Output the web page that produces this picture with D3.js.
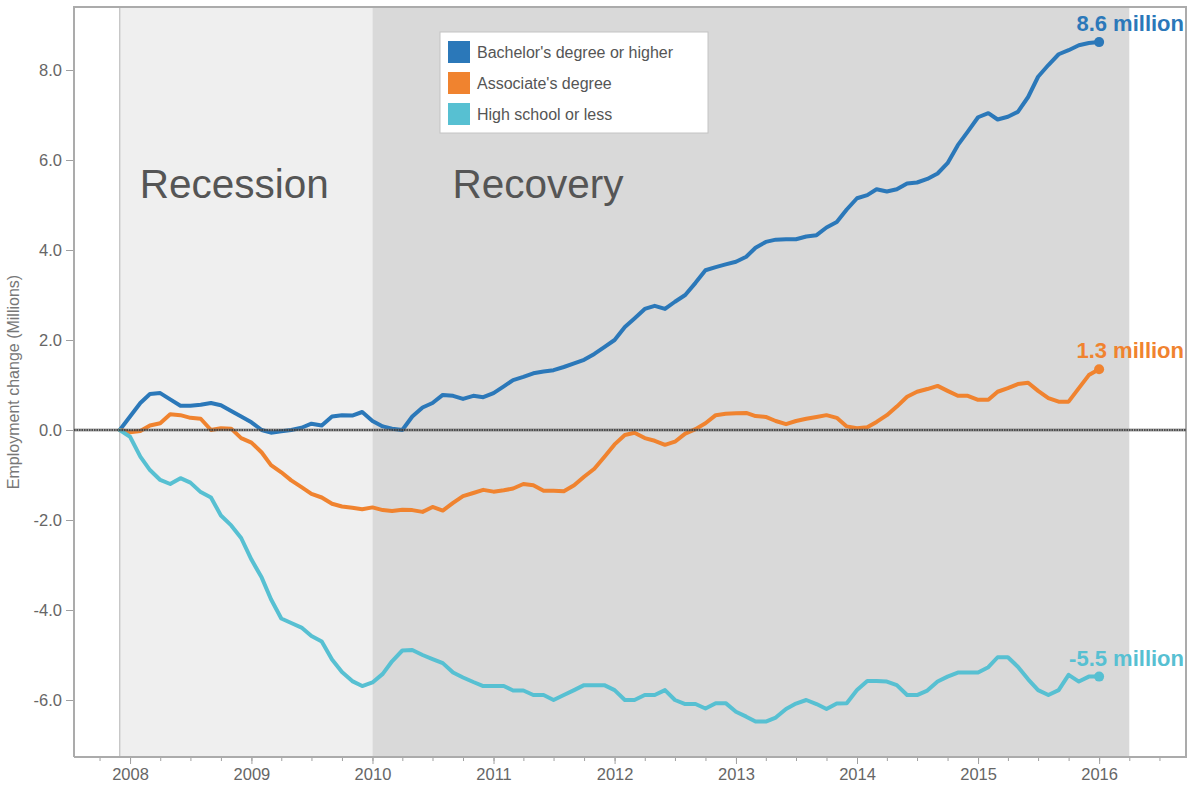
<!DOCTYPE html>
<html>
<head>
<meta charset="utf-8">
<script src="https://cdn.jsdelivr.net/npm/d3@7"></script>
<style>
    body { margin: 0; background: #fff; }
    svg { display: block; font-family: "Liberation Sans", Arial, sans-serif; }
</style>
</head>
<body>
<svg width="1188" height="786"></svg>
<script>
// the data - monthly employment change since Dec 2007, in millions
var startMonth = new Date(2007, 11, 1);
var endMonth = new Date(2016, 0, 1);

var bachelors = [
    0, 0.3, 0.6, 0.8, 0.82, 0.68, 0.54, 0.54, 0.56, 0.6, 0.55, 0.42, 0.3,
    0.17, 0.0, -0.06, -0.03, 0.0, 0.05, 0.14, 0.1, 0.3, 0.33, 0.32, 0.4,
    0.2, 0.08, 0.03, 0.0, 0.3, 0.5, 0.6, 0.78, 0.76, 0.69, 0.76, 0.73,
    0.82, 0.97, 1.11, 1.18, 1.26, 1.3, 1.33, 1.4, 1.48, 1.56, 1.69, 1.84,
    2.0, 2.29, 2.48, 2.69, 2.76, 2.69, 2.85, 3.0, 3.27, 3.55, 3.62, 3.68,
    3.74, 3.85, 4.05, 4.18, 4.23, 4.24, 4.24, 4.3, 4.33, 4.5, 4.62, 4.9,
    5.15, 5.22, 5.35, 5.3, 5.35, 5.48, 5.5, 5.58, 5.7, 5.93, 6.33, 6.63,
    6.95, 7.04, 6.9, 6.96, 7.07, 7.4, 7.85, 8.11, 8.35, 8.44, 8.55, 8.6,
    8.62
];

var associates = [
    0, -0.05, -0.02, 0.1, 0.15, 0.35, 0.33, 0.27, 0.25, 0.0, 0.04, 0.03, -0.18,
    -0.28, -0.5, -0.78, -0.94, -1.12, -1.27, -1.42, -1.5, -1.64, -1.7, -1.73, -1.76,
    -1.72, -1.78, -1.8, -1.77, -1.78, -1.82, -1.71, -1.79, -1.62, -1.47, -1.4, -1.33,
    -1.37, -1.34, -1.3, -1.2, -1.23, -1.35, -1.35, -1.36, -1.23, -1.04, -0.86, -0.6,
    -0.32, -0.11, -0.06, -0.18, -0.24, -0.33, -0.26, -0.08, 0.02, 0.15, 0.33, 0.36,
    0.37, 0.38, 0.31, 0.29, 0.2, 0.13, 0.2, 0.25, 0.29, 0.33, 0.27, 0.08,
    0.04, 0.06, 0.18, 0.33, 0.52, 0.74, 0.85, 0.91, 0.98, 0.87, 0.76, 0.76,
    0.67, 0.67, 0.85, 0.93, 1.02, 1.05, 0.87, 0.71, 0.63, 0.63, 0.93, 1.22,
    1.35
];

var highSchool = [
    0, -0.15, -0.59, -0.89, -1.11, -1.2, -1.07, -1.17, -1.38, -1.5, -1.9, -2.12, -2.4,
    -2.88, -3.28, -3.76, -4.19, -4.29, -4.39, -4.58, -4.7, -5.1, -5.38, -5.58, -5.69,
    -5.61, -5.42, -5.14, -4.9, -4.89, -5.0, -5.09, -5.18, -5.39, -5.5, -5.6, -5.69,
    -5.69, -5.69, -5.79, -5.79, -5.89, -5.89, -6.0, -5.89, -5.78, -5.67, -5.67, -5.67,
    -5.78, -6.0, -6.0, -5.89, -5.89, -5.78, -6.0, -6.09, -6.09, -6.19, -6.07, -6.07,
    -6.26, -6.37, -6.48, -6.48, -6.39, -6.2, -6.08, -6.0, -6.09, -6.2, -6.08, -6.07,
    -5.78, -5.58, -5.58, -5.59, -5.67, -5.89, -5.89, -5.79, -5.59, -5.48, -5.39, -5.39,
    -5.39, -5.27, -5.05, -5.05, -5.26, -5.54, -5.78, -5.89, -5.78, -5.44, -5.59, -5.48,
    -5.48
];

var seriesNames = ["Bachelor's degree or higher", "Associate's degree", "High school or less"];
var seriesColours = ["#2b78b9", "#f0832f", "#57c0d2"];
var endLabels = ["8.6 million", "1.3 million", "-5.5 million"];

var yTicks = [-6, -4, -2, 0, 2, 4, 6, 8];

// shaded periods
var periods = [
    { name: "Recession", start: new Date(2007, 11, 1), end: new Date(2010, 0, 1), fill: "#efefef" },
    { name: "Recovery", start: new Date(2010, 0, 1), end: new Date(2016, 3, 1), fill: "#d9d9d9" }
];

var svg = d3.select("svg");

// plot frame
var plotLeft = 74, plotRight = 1186, plotTop = 7, plotBottom = 757;

var months = d3.timeMonth.range(startMonth, d3.timeMonth.offset(endMonth, 1));
var series = [bachelors, associates, highSchool].map(function (vals, i) {
    return {
        name: seriesNames[i],
        colour: seriesColours[i],
        label: endLabels[i],
        values: vals.map(function (v, j) { return { date: months[j], value: v }; })
    };
});

var x = d3.scaleTime()
    .domain([new Date(2007, 6, 16), new Date(2016, 8, 19)])
    .range([plotLeft, plotRight]);

var y = d3.scaleLinear()
    .domain([-327 / 45, 423 / 45])
    .range([plotBottom, plotTop]);

//////////// BACKGROUND ////////////

svg.append("g")
    .selectAll("rect")
    .data(periods)
    .enter().append("rect")
    .attr("x", d => x(d.start))
    .attr("y", plotTop)
    .attr("width", d => x(d.end) - x(d.start))
    .attr("height", plotBottom - plotTop)
    .attr("fill", d => d.fill);

// thin edge on the left of the recession band
svg.append("line")
    .attr("x1", x(periods[0].start)).attr("x2", x(periods[0].start))
    .attr("y1", plotTop).attr("y2", plotBottom)
    .attr("stroke", "#b4b4b4")
    .attr("stroke-width", 1);

svg.append("g")
    .selectAll("text")
    .data(periods)
    .enter().append("text")
    .attr("x", d => d.name == "Recession" ? x(d.start) + 20 : x(d.start) + 80)
    .attr("y", 198)
    .attr("font-size", 40.5)
    .attr("fill", "#555")
    .text(d => d.name);

//////////// AXES ////////////

var yAxis = svg.append("g")
    .attr("transform", "translate(" + plotLeft + ",0)")
    .call(d3.axisLeft(y).tickValues(yTicks).tickSize(8).tickPadding(4).tickFormat(d => d.toFixed(1)));
yAxis.select(".domain").remove();
yAxis.selectAll(".tick line").attr("stroke", "#a0a0a0");
yAxis.selectAll(".tick text")
    .attr("font-size", 16.5)
    .attr("font-family", "Liberation Sans, Arial, sans-serif")
    .attr("fill", "#666");

var quarters = d3.timeMonth.every(3).range(new Date(2007, 9, 1), new Date(2016, 6, 2));
var xMinor = svg.append("g")
    .attr("transform", "translate(0," + plotBottom + ")")
    .call(d3.axisBottom(x).tickValues(quarters).tickSize(4).tickFormat(""));
xMinor.select(".domain").remove();
xMinor.selectAll(".tick line").attr("stroke", "#a0a0a0");

var years = d3.timeYear.range(new Date(2008, 0, 1), new Date(2016, 0, 2));
var xAxis = svg.append("g")
    .attr("transform", "translate(0," + plotBottom + ")")
    .call(d3.axisBottom(x).tickValues(years).tickSize(7).tickPadding(4).tickFormat(d3.timeFormat("%Y")));
xAxis.select(".domain").remove();
xAxis.selectAll(".tick line").attr("stroke", "#a0a0a0");
xAxis.selectAll(".tick text")
    .attr("font-size", 16.5)
    .attr("font-family", "Liberation Sans, Arial, sans-serif")
    .attr("fill", "#666");

// frame lines
svg.append("path")
    .attr("d", "M" + plotLeft + "," + plotBottom + "V" + plotTop + "H" + plotRight + "V" + plotBottom + "H" + plotLeft)
    .attr("fill", "none")
    .attr("stroke", "#ababab")
    .attr("stroke-width", 2);

svg.append("text")
    .attr("transform", "translate(19," + 382 + ") rotate(-90)")
    .attr("text-anchor", "middle")
    .attr("font-size", 16)
    .attr("fill", "#777")
    .text("Employment change (Millions)");

//////////// LINES ////////////

var line = d3.line()
    .x(d => x(d.date))
    .y(d => y(d.value));

svg.append("g")
    .selectAll("path")
    .data(series)
    .enter().append("path")
    .attr("d", d => line(d.values))
    .attr("fill", "none")
    .attr("stroke", d => d.colour)
    .attr("stroke-width", 4)
    .attr("stroke-linejoin", "round")
    .attr("stroke-linecap", "round");

// zero line sits on top of the series
svg.append("line")
    .attr("x1", plotLeft).attr("x2", plotRight)
    .attr("y1", y(0)).attr("y2", y(0))
    .attr("stroke", "#666")
    .attr("stroke-opacity", 0.6)
    .attr("stroke-width", 3);
svg.append("line")
    .attr("x1", plotLeft).attr("x2", plotRight)
    .attr("y1", y(0)).attr("y2", y(0))
    .attr("stroke", "#333")
    .attr("stroke-width", 1.5)
    .attr("stroke-dasharray", "1.5,1");

// end points and labels
var ends = svg.append("g")
    .selectAll("g")
    .data(series)
    .enter().append("g");

ends.append("circle")
    .attr("cx", d => x(d.values[d.values.length - 1].date))
    .attr("cy", d => y(d.values[d.values.length - 1].value))
    .attr("r", 5)
    .attr("fill", d => d.colour);

ends.append("text")
    .attr("x", 1184)
    .attr("y", d => y(d.values[d.values.length - 1].value) - 11)
    .attr("text-anchor", "end")
    .attr("font-size", 22)
    .attr("font-weight", "bold")
    .attr("fill", d => d.colour)
    .text(d => d.label);

//////////// LEGEND ////////////

var legend = svg.append("g")
    .attr("transform", "translate(440,32)");

legend.append("rect")
    .attr("width", 268)
    .attr("height", 101)
    .attr("fill", "#fff")
    .attr("stroke", "#c4c4c4");

var items = legend.selectAll(".item")
    .data(series)
    .enter().append("g")
    .attr("class", "item")
    .attr("transform", (d, i) => "translate(8," + (9 + i * 31) + ")");

items.append("rect")
    .attr("width", 22)
    .attr("height", 22)
    .attr("fill", d => d.colour);

items.append("text")
    .attr("x", 29)
    .attr("y", 17)
    .attr("font-size", 16)
    .attr("fill", "#555")
    .text(d => d.name);
</script>
</body>
</html>
